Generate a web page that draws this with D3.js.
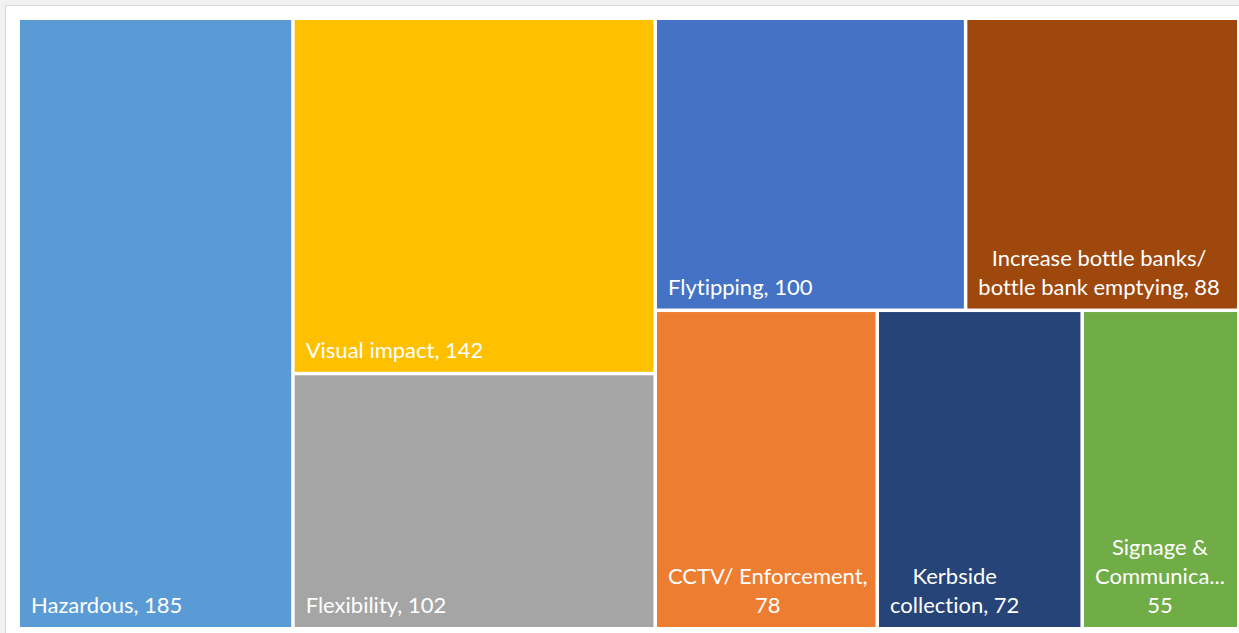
<!DOCTYPE html>
<html>
<head>
<meta charset="utf-8">
<script src="https://cdn.jsdelivr.net/npm/d3@7"></script>
<style>
  html, body { margin: 0; padding: 0; background: #f2f1f0; }
  svg { display: block; font-family: Lato, sans-serif; font-variant-ligatures: none; }
</style>
</head>
<body>
<script>
// data
const categories = ['Hazardous', 'Visual impact', 'Flexibility', 'Flytipping',
  'Increase bottle banks/ bottle bank emptying', 'CCTV/ Enforcement',
  'Kerbside collection', 'Signage & Communication']
const values = [185, 142, 102, 100, 88, 78, 72, 55]
// which column / row block each tile sits in (Excel's layout)
const column = [0, 1, 1, 2, 2, 2, 2, 2]
const row = [0, 0, 1, 0, 0, 1, 1, 1]
const colors = ['#5b9bd5', '#ffc000', '#a5a5a5', '#4472c4', '#9e480e', '#ed7d31', '#264478', '#70ad47']
const labelLines = [
  ['Hazardous, 185'],
  ['Visual impact, 142'],
  ['Flexibility, 102'],
  ['Flytipping, 100'],
  ['Increase bottle banks/', 'bottle bank emptying, 88'],
  ['CCTV/ Enforcement,', '78'],
  ['Kerbside', 'collection, 72'],
  ['Signage &', 'Communica...', '55']
]

const W = 1239, H = 633
const marginLeft = 20, marginTop = 20
const width = 1217, height = 607

const svg = d3.select('body').append('svg').attr('width', W).attr('height', H)

svg.append('rect')
  .attr('x', 5.5).attr('y', 5.5)
  .attr('width', W).attr('height', H)
  .attr('fill', '#fff').attr('stroke', '#d9d9d9')

var idx = categories.map((c, i) => i)
var root = d3.hierarchy(d3.group(idx, i => column[i], i => row[i]))
  .sum(d => typeof d === 'number' ? values[d] : 0)

var tile = (node, x0, y0, x1, y1) => {
  (node.depth % 2 ? d3.treemapSlice : d3.treemapDice)(node, x0, y0, x1, y1)
}

d3.treemap().tile(tile).size([width, height]).paddingInner(3.5)(root)

var g = svg.append('g').attr('transform', `translate(${marginLeft}, ${marginTop})`)

var cell = g.selectAll('g.cell')
  .data(root.leaves())
  .enter()
  .append('g')
  .attr('class', 'cell')

cell.append('rect')
  .attr('x', d => d.x0)
  .attr('y', d => d.y0)
  .attr('width', d => d.x1 - d.x0)
  .attr('height', d => d.y1 - d.y0)
  .attr('fill', d => colors[d.data])

var lineH = 29
cell.each(function (d) {
  var lines = labelLines[d.data]
  var t = d3.select(this).append('text')
    .attr('fill', '#fff')
    .attr('font-size', 22)
    .attr('text-anchor', 'middle')
  var spans = lines.map((s, k) => t.append('tspan')
    .attr('y', d.y1 - 14 - (lines.length - 1 - k) * lineH)
    .text(s))
  var maxW = d3.max(spans, s => s.node().getComputedTextLength())
  spans.forEach(s => s.attr('x', d.x0 + 11 + maxW / 2))
})
</script>
</body>
</html>
